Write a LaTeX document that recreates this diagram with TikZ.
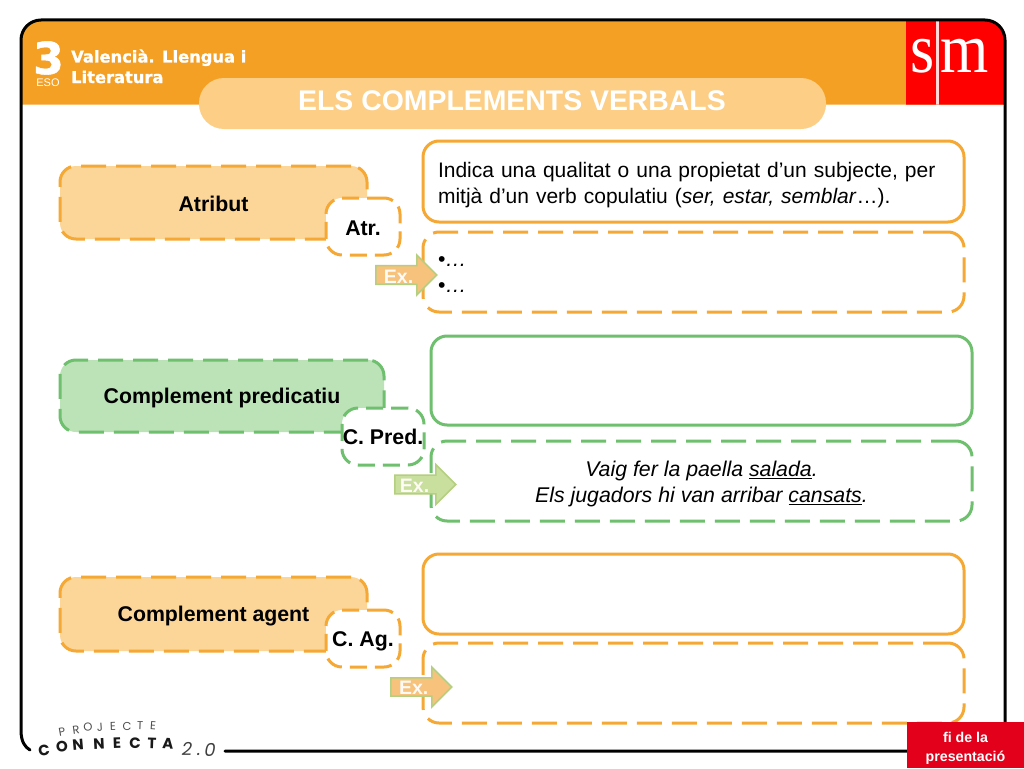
\documentclass[tikz,border=0pt]{standalone}
\usepackage{fontspec}
\setmainfont{Liberation Sans}
\newfontfamily\serifsm{Liberation Serif}
\newfontfamily\headfont[BoldFeatures={FakeBold=1.2}]{DejaVu Sans}
\newfontfamily\logofont{Poppins}
\usetikzlibrary{shapes.arrows}
\definecolor{headorange}{HTML}{F4A024}
\definecolor{pillorange}{HTML}{FDCE85}
\definecolor{lineorange}{HTML}{F5A833}
\definecolor{fillorange}{HTML}{FCD699}
\definecolor{linegreen}{HTML}{6EBF6E}
\definecolor{fillgreen}{HTML}{BCE3B8}
\definecolor{smred}{HTML}{FF0000}
\definecolor{endred}{HTML}{E2001A}
\definecolor{arrowedge}{HTML}{B5CF80}
\definecolor{arrowgreen}{HTML}{C9DF9D}
\definecolor{arroworange}{HTML}{F6C27C}
\newcommand{\fs}[1]{\fontsize{#1}{#1}\selectfont}
\newcommand{\pad}[1]{\rule{0pt}{#1pt}}
\newcommand{\hdrpath}{(21,104.5) -- (21,40) .. controls (21,29) and (30,20) .. (41,20) -- (985,20) .. controls (996,20) and (1005,29) .. (1005,40) -- (1005,104.5) -- cycle}
\tikzset{
  x=1pt,y=-1pt,
  wh/.style n args={2}{minimum width=#1pt,minimum height=#2pt},
  boxbase/.style={rectangle,rounded corners=16pt,line width=3pt,inner sep=0pt,align=center,font=\fs{21.3}},
  dashbox/.style={boxbase,dash pattern=on 25pt off 10pt},
  solidbox/.style={boxbase},
  termo/.style={dashbox,draw=lineorange,fill=fillorange,font=\fs{21.3}\bfseries},
  termg/.style={dashbox,draw=linegreen,fill=fillgreen,font=\fs{21.3}\bfseries},
  tago/.style={dashbox,draw=lineorange,fill=white,font=\fs{21.3}\bfseries,dash pattern=on 17pt off 8pt},
  tagg/.style={dashbox,draw=linegreen,fill=white,font=\fs{21.3}\bfseries,dash pattern=on 17pt off 8pt},
  exarrow/.style={single arrow,single arrow head extend=10pt,single arrow head indent=0pt,minimum height=61pt,minimum width=40pt,inner sep=0pt,draw=arrowedge,line width=1.5pt,text=white!92!arroworange,font=\fs{19.5}\bfseries,anchor=west},
  logob/.style={font=\logofont\fs{15}\bfseries,text=black!90,inner sep=0pt},
  logol/.style={font=\logofont\fs{11.5},text=black!70,inner sep=0pt},
  logoi/.style={font=\logofont\fs{18}\itshape,text=black!75,inner sep=0pt},
}
\begin{document}
\begin{tikzpicture}
\useasboundingbox (0,0) rectangle (1024,768);
\fill[white] (0,0) rectangle (1024,768);
% header
\fill[headorange] \hdrpath;
\begin{scope}
\clip \hdrpath;
\fill[smred] (906,15) rectangle (1010,104.5);
\fill[white!85!smred] (936,21) rectangle (938.5,104.5);
\end{scope}
\node[inner sep=0pt,text=white,anchor=base] (s) at (923,72) {\scalebox{1}[1.14]{\serifsm\fs{62}s}};
\node[inner sep=0pt,text=white,anchor=base] (m) at (964.5,72) {\scalebox{1}[1.14]{\serifsm\fs{62}m}};
% frame
\draw[line width=3pt,black,line cap=round] (30,750) .. controls (25,747) and (21,742) .. (21,730) -- (21,40) .. controls (21,29) and (30,20) .. (41,20) -- (985,20) .. controls (996,20) and (1005,29) .. (1005,40) -- (1005,751) -- (225,751);
% chapter
\node[inner sep=0pt,text=white,anchor=base] (three) at (48.5,74) {\headfont\fs{44}\bfseries 3};
\node[inner sep=0pt,text=white,anchor=base] (eso) at (48,86) {\fs{11}ESO};
\node[inner sep=0pt,text=white,anchor=base west] (subj1) at (71,62.5) {\headfont\fs{16.3}\bfseries Valencià. Llengua i};
\node[inner sep=0pt,text=white,anchor=base west] (subj2) at (71,83) {\headfont\fs{16.3}\bfseries Literatura};
% title
\node[rectangle,rounded corners=25pt,fill=pillorange,inner sep=0pt,wh={627}{51}] (title) at (512.5,103.5) {};
\node[inner sep=0pt,text=white,font=\fs{28.4}\bfseries] (titletxt) at (512,100.5) {ELS COMPLEMENTS VERBALS};
% row 1
\node[termo,wh={307}{73}] (t1) at (213.5,202.5) {\pad{17.5}Atribut};
\node[tago,wh={74}{57}] (a1) at (363,226.5) {\pad{17.5}Atr.};
\node[solidbox,draw=lineorange,fill=white,wh={541}{81},text width=511pt,inner xsep=15pt,align=left,font=\fs{21}] (d1) at (693.5,181.5)
  {\pad{22}Indica una qualitat o una propietat d’un subjecte, per\\[5pt]mitjà d’un verb copulatiu (\textit{ser, estar, semblar}…).};
\node[dashbox,draw=lineorange,fill=white,wh={541}{80},text width=511pt,inner xsep=15pt,align=left] (e1) at (693.5,272)
  {\pad{15}•\textit{…}\\[4.7pt]•\textit{…}};
\node[exarrow,fill=arroworange] (x1) at (375,275) {\pad{16}Ex.\hspace*{6pt}};
% row 2
\node[termg,wh={324}{72}] (t2) at (222,396) {\pad{20}Complement predicatiu};
\node[tagg,wh={82}{57}] (a2) at (383,436.5) {C. Pred.};
\node[solidbox,draw=linegreen,fill=white,wh={541}{89}] (d2) at (701.5,380.5) {};
\node[dashbox,draw=linegreen,fill=white,wh={541}{80},font=\fs{21.3}\itshape] (e2) at (701.5,481)
  {\pad{22}Vaig fer la paella \underline{salada}.\\[4.7pt]Els jugadors hi van arribar \underline{cansats}.};
\node[exarrow,fill=arrowgreen] (x2) at (394,484.5) {\pad{16}Ex.\hspace*{12pt}};
% row 3
\node[termo,wh={307}{74}] (t3) at (213.5,614) {\pad{19.5}Complement agent};
\node[tago,wh={74}{57}] (a3) at (363,638.5) {\pad{21.3}C. Ag.};
\node[solidbox,draw=lineorange,fill=white,wh={541}{80}] (d3) at (693.5,594) {};
\node[dashbox,draw=lineorange,fill=white,wh={541}{80}] (e3) at (693.5,683) {};
\node[exarrow,fill=arroworange] (x3) at (390,687) {\pad{15}Ex.\hspace*{6pt}};
% logo
\foreach \ch/\px/\py/\r [count=\i] in {C/44/750/8,O/62/747/6,N/78/745/5,N/99/744/3,E/117/743/2,C/135/743/0,T/152/743/-2,A/168/744/-4}
  \node[logob,rotate=\r] (lc\i) at (\px,\py) {\ch};
\foreach \ch/\px/\py/\r [count=\i] in {P/62/732/10,R/76/730/8,O/88/727/6,J/100/727/4,E/113/726/2,C/127/726/0,T/140/726/-2,E/153/726/-4}
  \node[logol,rotate=\r] (lp\i) at (\px,\py) {\ch};
\node[logoi] (l2) at (187,749) {2};
\node[logoi] (ldot) at (199,754) {.};
\node[logoi] (l0) at (210,750) {0};
% end button
\node[rectangle,fill=endred,inner sep=0pt,wh={117}{46},text=white,align=center,font=\fs{14.2}\bfseries] (fi) at (965.5,745)
  {\pad{16}fi de la\\[4.8pt]presentació};
\end{tikzpicture}
\end{document}
